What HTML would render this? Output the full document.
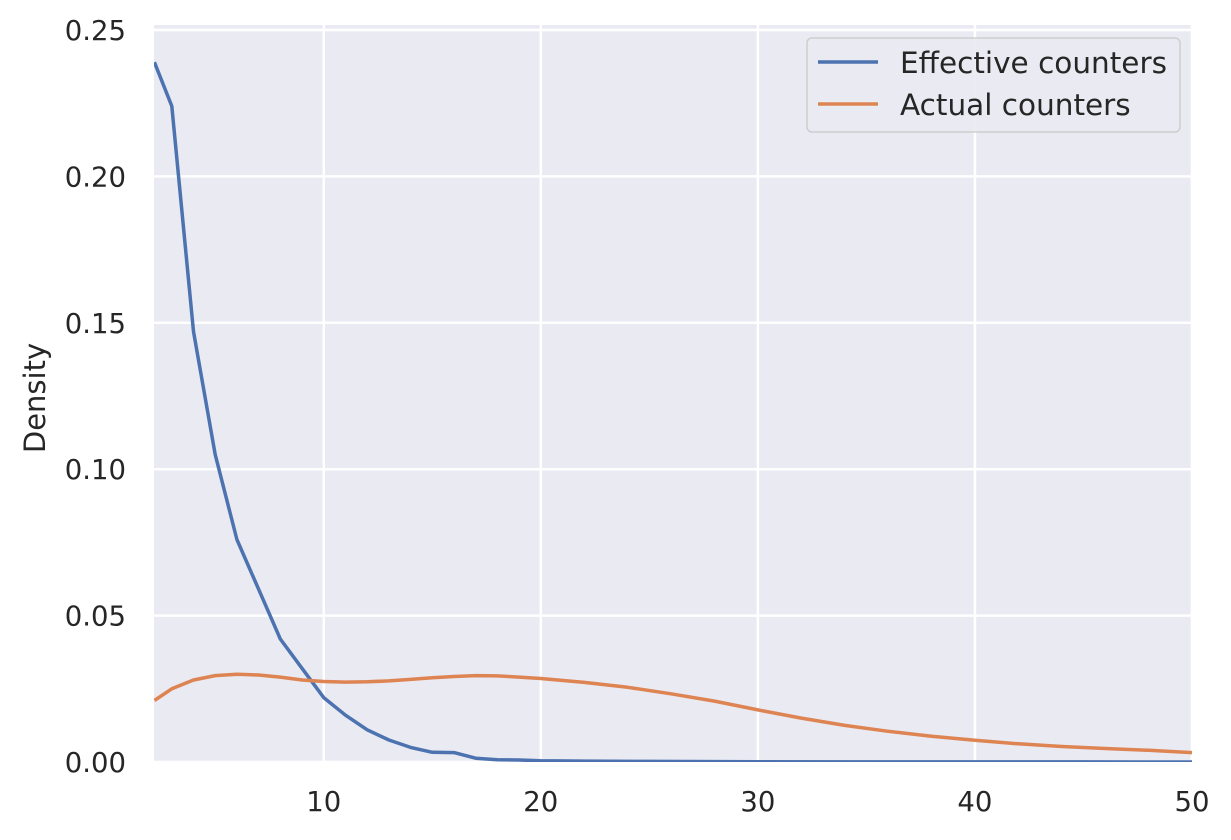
<!DOCTYPE html>
<html><head><meta charset="utf-8"><style>
body{margin:0;background:#fff;}
text{font-family:"DejaVu Sans","Liberation Sans",sans-serif;fill:#262626;}
</style></head><body>
<svg id="chart" width="1231" height="835" xmlns="http://www.w3.org/2000/svg">
<defs><clipPath id="clip"><rect x="154" y="25" width="1038" height="737"/></clipPath></defs>
<rect x="154" y="25" width="1038" height="737" fill="#eaeaf2"/>
<g id="grid"></g>
<g id="ticks"></g>
<g id="lines" clip-path="url(#clip)"></g>
<text x="45" y="398" font-size="29" text-anchor="middle" transform="rotate(-90 45 398)">Density</text>
<g>
<rect x="807" y="38" width="373" height="94" rx="5" fill="#eaeaf2" stroke="#cccccc" stroke-width="1.5" opacity="0.9"/>
<g><line x1="818" y1="62" x2="878" y2="62" stroke="#4c72b0" stroke-width="3.5"/><text x="900" y="73" font-size="29.5">Effective counters</text></g>
<g><line x1="818" y1="104" x2="878" y2="104" stroke="#dd8452" stroke-width="3.5"/><text x="900" y="115" font-size="29.5">Actual counters</text></g>
</g>
</svg>
<script>
const xTicks=[10,20,30,40,50];
const yTicks=[0,0.05,0.10,0.15,0.20,0.25];
const yTickLabels=["0.00","0.05","0.10","0.15","0.20","0.25"];
const effX=[2.2,3,4,5,6,7,8,9,10,11,12,13,14,15,16,17,18,19,20,22,25,30,35,40,45,50];
const effY=[0.239,0.224,0.147,0.105,0.076,0.059,0.042,0.032,0.022,0.016,0.011,0.0075,0.005,0.0033,0.0032,0.0013,0.0008,0.0007,0.0004,0.0003,0.0002,0.0001,0.00005,0.00003,0.00002,0.00001];
const actX=[2.2,3,4,5,6,7,8,9,10,11,12,13,14,15,16,17,18,19,20,22,24,26,28,30,32,34,36,38,40,42,44,46,48,50];
const actY=[0.021,0.025,0.028,0.0295,0.030,0.0297,0.029,0.028,0.0275,0.0273,0.0274,0.0277,0.0282,0.0288,0.0292,0.0295,0.0294,0.029,0.0285,0.0272,0.0255,0.0233,0.0208,0.0178,0.0150,0.0125,0.0105,0.0088,0.0074,0.0062,0.0053,0.0046,0.004,0.0032];
const X0=154,X1=1192,Y0=762,Y1=25,xmin=2.18,xmax=50,ymin=0,ymax=0.2517;
const sx=v=>X0+(v-xmin)/(xmax-xmin)*(X1-X0);
const sy=v=>Y0-(v-ymin)/(ymax-ymin)*(Y0-Y1);
const NS="http://www.w3.org/2000/svg";
const grid=document.getElementById('grid'),ticks=document.getElementById('ticks'),lines=document.getElementById('lines');
function mk(tag,attrs,parent){const e=document.createElementNS(NS,tag);for(const k in attrs)e.setAttribute(k,attrs[k]);parent.appendChild(e);return e;}
xTicks.forEach(t=>{
 const l=mk('line',{x1:sx(t),x2:sx(t),y1:Y1,y2:Y0,stroke:'#fff','stroke-width':2.5},grid);
 
 
 const tx=mk('text',{x:sx(t),y:811,'font-size':27.5,'text-anchor':'middle'},ticks);tx.textContent=t;
 
 
});
yTicks.forEach((t,i)=>{
 const l=mk('line',{x1:X0,x2:X1,y1:sy(t),y2:sy(t),stroke:'#fff','stroke-width':2.5},grid);
 
 
 const tx=mk('text',{x:126,y:sy(t)+10,'font-size':27.5,'text-anchor':'end'},ticks);tx.textContent=yTickLabels[i];
 
 
});
function path(xs,ys,color,name){
 const d=xs.map((x,i)=>(i?'L':'M')+sx(x).toFixed(1)+','+sy(ys[i]).toFixed(1)).join('');
 const p=mk('path',{d:d,fill:'none',stroke:color,'stroke-width':3.5,'stroke-linejoin':'round'},lines);
 
 
}
path(effX,effY,'#4c72b0','effective-counters-line');
path(actX,actY,'#dd8452','actual-counters-line');
</script>
</body></html>
